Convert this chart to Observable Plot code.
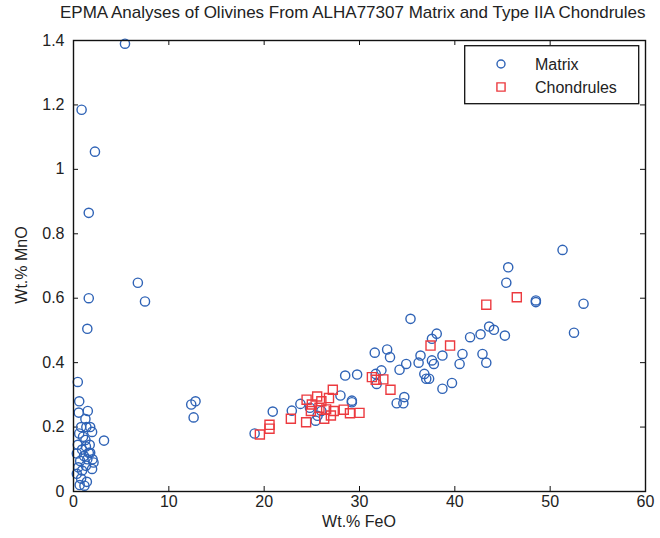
<!DOCTYPE html>
<html>
<head>
<meta charset="utf-8">
<script src="https://cdn.jsdelivr.net/npm/d3@7"></script>
<script src="https://cdn.jsdelivr.net/npm/@observablehq/plot@0.6"></script>
<style>
  body { margin: 0; background: #fff; font-family: "Liberation Sans", Arial, sans-serif; }
  #wrap { position: relative; width: 660px; height: 538px; overflow: hidden; }
  #wrap svg.plot { position: absolute; left: 0; top: 0; }
  .lbl { position: absolute; color: #222; font-size: 16px; white-space: nowrap; }
  #title { left: 60px; top: 3px; font-size: 17px; }
  #xlabel { left: 0; width: 718px; top: 513px; text-align: center; }
  #ylabel { left: 22px; top: 265px; transform: translate(-50%, -50%) rotate(-90deg); }
  #legend { position: absolute; left: 464px; top: 45px; }
</style>
</head>
<body>
<div id="wrap">
  <div id="title" class="lbl">EPMA Analyses of Olivines From ALHA77307 Matrix and Type IIA Chondrules</div>
  <div id="xlabel" class="lbl">Wt.% FeO</div>
  <div id="ylabel" class="lbl">Wt.% MnO</div>
</div>
<script>
// Olivine analyses: FeO and MnO weight percent
const matrixFeO = [
  5.4, 0.85, 2.25, 1.6, 6.75, 7.5, 1.6, 1.45,
  0.45, 0.6, 0.55, 1.5, 1.25, 0.8, 1.35, 1.75, 1.95, 0.6, 1.25, 3.2, 0.45, 1.3, 1.7, 0.9,
  0.35, 1.75, 1.1, 1.45, 0.7, 2.0, 0.5, 1.3, 1.95, 0.9, 0.35, 0.8, 1.4, 0.65, 1.15, 1.6, 1.0, 2.1,
  12.35, 12.8, 12.6, 19.0, 20.9, 22.9, 23.8, 25.4, 28.0, 28.5, 29.75, 29.2, 26.0, 24.8, 25.6,
  31.6, 32.9, 33.2, 36.4, 36.2, 37.6, 37.8, 38.7, 40.8, 40.5, 42.9, 43.3, 35.35, 43.6, 44.1,
  42.7, 41.6, 38.1, 37.6, 31.8, 32.3, 34.2, 34.9, 36.8, 37.0, 37.3, 38.7, 39.7, 33.9, 34.7,
  34.6, 29.2, 51.3, 45.6, 45.4, 48.5, 48.5, 53.5, 52.5, 45.25, 31.7
];
const matrixMnO = [
  1.39, 1.185, 1.055, 0.865, 0.648, 0.59, 0.60, 0.505,
  0.34, 0.28, 0.245, 0.25, 0.225, 0.20, 0.20, 0.20, 0.185, 0.18, 0.16, 0.158, 0.145, 0.14, 0.145, 0.13,
  0.118, 0.12, 0.11, 0.10, 0.095, 0.10, 0.075, 0.08, 0.07, 0.065, 0.055, 0.04, 0.03, 0.02, 0.018, 0.12, 0.17, 0.09,
  0.27, 0.28, 0.23, 0.18, 0.248, 0.251, 0.272, 0.22, 0.298, 0.36, 0.363, 0.277, 0.25, 0.26, 0.235,
  0.431, 0.441, 0.417, 0.422, 0.40, 0.407, 0.396, 0.422, 0.427, 0.396, 0.427, 0.40, 0.536, 0.512, 0.502,
  0.488, 0.479, 0.49, 0.474, 0.334, 0.376, 0.378, 0.396, 0.365, 0.35, 0.35, 0.319, 0.337, 0.274, 0.293,
  0.274, 0.282, 0.75, 0.696, 0.648, 0.593, 0.588, 0.583, 0.493, 0.484, 0.365
];
const chondFeO = [
  19.55, 20.56, 20.56, 22.8, 24.4, 24.45, 25.56, 26.3, 27.2, 27.0, 30.0, 29.0, 28.35,
  25.0, 26.0, 26.8, 25.8, 26.5, 27.3, 24.9, 31.3, 31.7, 32.5, 33.25, 37.45, 39.5, 43.3, 46.5
];
const chondMnO = [
  0.177, 0.207, 0.195, 0.226, 0.215, 0.285, 0.295, 0.226, 0.316, 0.236, 0.244, 0.243, 0.254,
  0.27, 0.28, 0.29, 0.26, 0.255, 0.25, 0.25, 0.355, 0.347, 0.348, 0.316, 0.453, 0.453, 0.58, 0.603
];
const xTicks = [0, 10, 20, 30, 40, 50, 60];
const yTicks = [0, 0.2, 0.4, 0.6, 0.8, 1.0, 1.2, 1.4];
const seriesNames = ["Matrix", "Chondrules"];

const blue = "#2f63b6";
const red = "#ec3a3f";

const matrix = matrixFeO.map((x, i) => ({x, y: matrixMnO[i]}));
const chondrules = chondFeO.map((x, i) => ({x, y: chondMnO[i]}));

const W = 660, H = 538;
const mT = 40, mB = 47, mL = 73, mR = 15;
const ph = H - mT - mB, pw = W - mL - mR;
const tl = 5; // inward tick length

const chart = Plot.plot({
  width: W, height: H,
  marginTop: mT, marginBottom: mB, marginLeft: mL, marginRight: mR,
  x: {domain: [0, 60]},
  y: {domain: [0, 1.4]},
  style: {fontFamily: "'Liberation Sans', Arial, sans-serif", fontSize: "16px", color: "#222", background: "transparent"},
  marks: [
    Plot.axisX(xTicks, {anchor: "bottom", tickSize: 0, tickPadding: 4, label: null, tickFormat: d => String(d)}),
    Plot.axisY(yTicks, {anchor: "left", tickSize: 0, tickPadding: 9, label: null, tickFormat: d => String(+d.toFixed(1))}),
    // inward ticks on all four sides
    Plot.tickX(xTicks, {x: d => d, insetTop: ph - tl, stroke: "#111"}),
    Plot.tickX(xTicks, {x: d => d, insetBottom: ph - tl, stroke: "#111"}),
    Plot.tickY(yTicks, {y: d => d, insetRight: pw - tl, stroke: "#111"}),
    Plot.tickY(yTicks, {y: d => d, insetLeft: pw - tl, stroke: "#111"}),
    Plot.dot(matrix, {x: "x", y: "y", r: 4.6, symbol: "circle", stroke: blue, strokeWidth: 1.4, fill: "none"}),
    Plot.dot(chondrules, {x: "x", y: "y", r: 5.1, symbol: "square", stroke: red, strokeWidth: 1.4, fill: "none"}),
    Plot.frame({stroke: "#111", strokeWidth: 1.4})
  ]
});
chart.classList.add("plot");
document.getElementById("wrap").prepend(chart);

// legend box
const lw = 174, lh = 58;
const leg = d3.select("#wrap").append("svg")
  .attr("id", "legend").attr("width", lw + 2).attr("height", lh + 2);
leg.append("rect").attr("x", 0.7).attr("y", 0.7).attr("width", lw).attr("height", lh)
  .attr("fill", "#fff").attr("stroke", "#111").attr("stroke-width", 1.3);
const rows = [
  {name: seriesNames[0], color: blue, sym: d3.symbolCircle, r: 4.0, ty: 19},
  {name: seriesNames[1], color: red, sym: d3.symbolSquare, r: 4.6, ty: 42}
];
rows.forEach(row => {
  leg.append("path")
    .attr("d", d3.symbol(row.sym, row.r * row.r * Math.PI)())
    .attr("transform", `translate(37,${row.ty})`)
    .attr("fill", "none").attr("stroke", row.color).attr("stroke-width", 1.4);
  leg.append("text").attr("x", 71).attr("y", row.ty).attr("dy", "0.35em")
    .attr("font-family", "'Liberation Sans', Arial, sans-serif").attr("font-size", 16)
    .attr("fill", "#222").text(row.name);
});
</script>
</body>
</html>
